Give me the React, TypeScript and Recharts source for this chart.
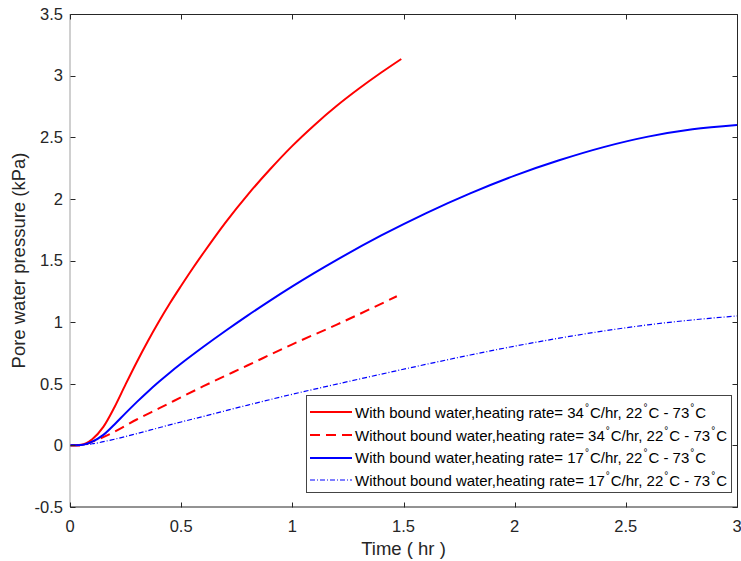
import { LineChart, Line, XAxis, YAxis } from "recharts";

const FONT = "'Liberation Sans', Arial, sans-serif";
const INK = "#262626";

const CHART_W = 741;
const CHART_H = 561;
const MARGIN = { top: 14, right: 4, bottom: 14, left: 10 };

const X_TICKS = [0, 0.5, 1, 1.5, 2, 2.5, 3];
const Y_TICKS = [-0.5, 0, 0.5, 1, 1.5, 2, 2.5, 3, 3.5];
const X_DOMAIN = [0, 3];
const Y_DOMAIN = [-0.5, 3.5];

// 34 C/hr, with bound water
const T_34_WITH = [0, 0.05, 0.1, 0.15, 0.2, 0.25, 0.3, 0.35, 0.4, 0.45, 0.5, 0.55, 0.6, 0.7, 0.8, 0.9, 1.0, 1.1, 1.2, 1.3, 1.4, 1.49];
const P_34_WITH = [0, 0.005, 0.05, 0.15, 0.31, 0.495, 0.675, 0.845, 1.005, 1.155, 1.295, 1.431, 1.561, 1.81, 2.035, 2.24, 2.43, 2.6, 2.755, 2.895, 3.025, 3.135];

// 34 C/hr, without bound water
const T_34_WITHOUT = [0, 0.05, 0.1, 0.2, 0.3, 0.4, 0.6, 0.8, 1.0, 1.2, 1.47];
const P_34_WITHOUT = [0, 0, 0.03, 0.11, 0.21, 0.3, 0.48, 0.65, 0.82, 0.98, 1.21];

// 17 C/hr, with bound water
const T_17_WITH = [0, 0.05, 0.1, 0.15, 0.2, 0.25, 0.3, 0.35, 0.4, 0.45, 0.5, 0.6, 0.7, 0.8, 0.9, 1.0, 1.2, 1.4, 1.6, 1.8, 2.0, 2.2, 2.4, 2.6, 2.8, 3.0];
const P_17_WITH = [0, 0.003, 0.03, 0.085, 0.17, 0.262, 0.351, 0.436, 0.516, 0.592, 0.664, 0.8, 0.93, 1.055, 1.175, 1.29, 1.505, 1.703, 1.883, 2.045, 2.189, 2.313, 2.42, 2.505, 2.565, 2.6];

// 17 C/hr, without bound water
const T_17_WITHOUT = [0, 0.1, 0.2, 0.3, 0.4, 0.5, 0.6, 0.8, 1.0, 1.2, 1.4, 1.6, 1.8, 2.0, 2.2, 2.4, 2.6, 2.8, 3.0];
const P_17_WITHOUT = [0, 0.013, 0.05, 0.095, 0.143, 0.19, 0.235, 0.327, 0.415, 0.497, 0.578, 0.657, 0.733, 0.805, 0.87, 0.928, 0.978, 1.018, 1.05];

const rows = (t: number[], p: number[]) => t.map((x, i) => ({ t: x, p: p[i] }));

const SERIES = [
  { key: "w34", label: "With bound water,heating rate= ", rate: "34", data: rows(T_34_WITH, P_34_WITH), color: "#ff0000", width: 2, dash: undefined as string | undefined },
  { key: "wo34", label: "Without bound water,heating rate= ", rate: "34", data: rows(T_34_WITHOUT, P_34_WITHOUT), color: "#ff0000", width: 2, dash: "10 6" },
  { key: "w17", label: "With bound water,heating rate= ", rate: "17", data: rows(T_17_WITH, P_17_WITH), color: "#0000ff", width: 2, dash: undefined },
  { key: "wo17", label: "Without bound water,heating rate= ", rate: "17", data: rows(T_17_WITHOUT, P_17_WITHOUT), color: "#0000ff", width: 1.2, dash: "5 2 1 2" },
];

const TICK_LEN = 5;
const LABEL_FS = 18.5;
const tickText = { fontSize: 16.5, fill: INK, fontFamily: FONT };

const Deg = () => (
  <span style={{ fontSize: 10, position: "relative", top: -7, margin: "0 1px" }}>°</span>
);

function LegendBox() {
  return (
    <div
      style={{
        position: "absolute",
        left: 306,
        top: 395,
        border: "1px solid #444",
        background: "#fff",
        width: 426,
        height: 98,
        padding: "5px 0 0 3px",
        boxSizing: "border-box",
        fontFamily: FONT,
        fontSize: 15,
        color: "#000",
      }}
    >
      {SERIES.map((s) => (
        <div key={s.key} style={{ display: "flex", alignItems: "center", height: 22.7, whiteSpace: "nowrap" }}>
          <svg width={42} height={6} style={{ flexShrink: 0 }}>
            <line x1={0} x2={42} y1={3} y2={3} stroke={s.color} strokeWidth={s.width} strokeDasharray={s.dash} />
          </svg>
          <span style={{ marginLeft: 3 }}>
            {s.label}
            {s.rate}
            <Deg />
            C/hr, 22
            <Deg />
            C - 73
            <Deg />C
          </span>
        </div>
      ))}
    </div>
  );
}

const px = (v: number) => Math.round(v) + 0.5;

// y label plus the matlab-style box (top/right edges) and inward ticks,
// laid out from the y axis box the label gets
const YLabelAndFrame = (props: any) => {
  const vb = props.viewBox || { x: MARGIN.left, y: MARGIN.top, width: 60, height: CHART_H - MARGIN.top - MARGIN.bottom - 40 };
  const left = vb.x + vb.width;
  const top = vb.y;
  const bottom = vb.y + vb.height;
  const right = CHART_W - MARGIN.right;
  const sx = (t: number) => left + ((t - X_DOMAIN[0]) / (X_DOMAIN[1] - X_DOMAIN[0])) * (right - left);
  const sy = (v: number) => top + ((Y_DOMAIN[1] - v) / (Y_DOMAIN[1] - Y_DOMAIN[0])) * (bottom - top);
  const cx = vb.x + 15;
  const cy = vb.y + vb.height / 2;

  let d = `M${px(left)},${px(top)}H${px(right)}V${px(bottom)}`;
  X_TICKS.forEach((t) => {
    const x = px(sx(t));
    d += `M${x},${px(bottom)}v${-TICK_LEN}M${x},${px(top)}v${TICK_LEN}`;
  });
  Y_TICKS.forEach((v) => {
    const y = px(sy(v));
    d += `M${px(left)},${y}h${TICK_LEN}M${px(right)},${y}h${-TICK_LEN}`;
  });

  return (
    <g>
      <text x={cx} y={cy} transform={`rotate(-90 ${cx} ${cy})`} textAnchor="middle" fontSize={LABEL_FS} fill={INK} fontFamily={FONT}>
        Pore water pressure (kPa)
      </text>
      <path d={d} fill="none" stroke={INK} strokeWidth={1} />
    </g>
  );
};

export default function App() {
  return (
    <div style={{ position: "absolute", left: 0, top: 0, width: CHART_W, height: CHART_H, background: "#fff" }}>
      <LineChart width={CHART_W} height={CHART_H} margin={MARGIN}>
        <XAxis
          dataKey="t"
          type="number"
          domain={X_DOMAIN}
          allowDataOverflow
          ticks={X_TICKS}
          interval={0}
          height={40}
          tickSize={0}
          tickMargin={13}
          tickLine={false}
          stroke={INK}
          tick={tickText}
          label={{
            content: (props: any) => {
              const vb = props.viewBox || { x: 70, y: 507, width: 667 };
              return (
                <text x={vb.x + vb.width / 2} y={vb.y + 48} textAnchor="middle" fontSize={LABEL_FS} fill={INK} fontFamily={FONT}>
                  Time ( hr )
                </text>
              );
            },
          }}
        />
        <YAxis
          type="number"
          domain={Y_DOMAIN}
          allowDataOverflow
          ticks={Y_TICKS}
          interval={0}
          width={60}
          tickSize={0}
          tickMargin={7}
          tickLine={false}
          axisLine={{ stroke: "#a0a0a0" }}
          tick={tickText}
          label={{ content: YLabelAndFrame }}
        />
        {SERIES.map((s) => (
          <Line
            key={s.key}
            data={s.data}
            dataKey="p"
            type="monotone"
            stroke={s.color}
            strokeWidth={s.width}
            strokeDasharray={s.dash}
            dot={false}
            activeDot={false}
            isAnimationActive={false}
          />
        ))}
      </LineChart>
      <LegendBox />
    </div>
  );
}
